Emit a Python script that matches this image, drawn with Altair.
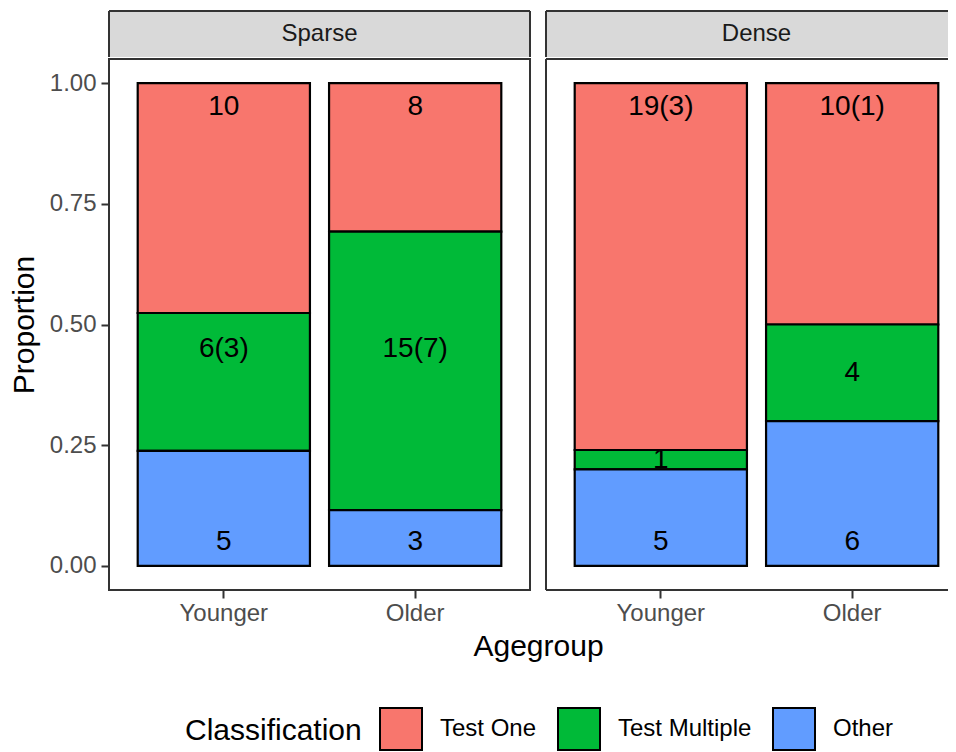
import altair as alt
import pandas as pd

FONT = "Liberation Sans"

facets = ["Sparse", "Dense"]
agegroups = ["Younger", "Older"]
classes = ["Test One", "Test Multiple", "Other"]
class_colors = ["#F8766D", "#00BA38", "#619CFF"]
stack_rank = [2, 1, 0]  # Other at the bottom

# counts in class order (Test One, Test Multiple, Other)
counts = {
    ("Sparse", "Younger"): [10, 6, 5],
    ("Sparse", "Older"): [8, 15, 3],
    ("Dense", "Younger"): [19, 1, 5],
    ("Dense", "Older"): [10, 4, 6],
}
labels = {
    ("Sparse", "Younger"): ["10", "6(3)", "5"],
    ("Sparse", "Older"): ["8", "15(7)", "3"],
    ("Dense", "Younger"): ["19(3)", "1", "5"],
    ("Dense", "Older"): ["10(1)", "4", "6"],
}
label_y = {
    ("Sparse", "Younger"): [0.95, 0.45, 0.05],
    ("Sparse", "Older"): [0.95, 0.45, 0.05],
    ("Dense", "Younger"): [0.95, 0.22, 0.05],
    ("Dense", "Older"): [0.95, 0.40, 0.05],
}

rows = []
for f in facets:
    for a in agegroups:
        for i, c in enumerate(classes):
            rows.append({
                "Facet": f, "Agegroup": a, "Classification": c,
                "count": counts[(f, a)][i], "label": labels[(f, a)][i],
                "label_y": label_y[(f, a)][i], "rank": stack_rank[i],
            })
df = pd.DataFrame(rows)

PANEL_H = 531
STRIP_H = 46
FULL_W = 421
RIGHT_W = 408
GAP = 16
BORDER = "#333333"
P_IN, P_OUT = 0.1, 0.15

# right panel is cut off by the picture edge: keep the same band step
STEP = FULL_W / (2 - P_IN + 2 * P_OUT)
P_OUT_R = (RIGHT_W / STEP - (2 - P_IN)) / 2
ALIGN_R = (P_OUT * STEP) / (RIGHT_W - (2 - P_IN) * STEP)

color_scale = alt.Scale(domain=classes, range=class_colors)
y_scale = alt.Scale(domain=[-0.05, 1.05], nice=False, zero=False)
one = pd.DataFrame({"k": [0]})


def border_rules(width, height, sides):
    out = []
    for s in sides:
        if s == "left":
            enc = dict(x=alt.value(0), y=alt.value(0), y2=alt.value(height))
        elif s == "right":
            enc = dict(x=alt.value(width), y=alt.value(0), y2=alt.value(height))
        elif s == "bottom":
            enc = dict(x=alt.value(0), x2=alt.value(width), y=alt.value(height))
        elif s == "top":
            enc = dict(x=alt.value(0), x2=alt.value(width), y=alt.value(0))
        out.append(alt.Chart(one).mark_rule(color=BORDER, strokeWidth=2).encode(**enc))
    return out


def panel(name, width, first):
    d = df[df["Facet"] == name]
    if first:
        xscale = alt.Scale(paddingInner=P_IN, paddingOuter=P_OUT)
    else:
        xscale = alt.Scale(paddingInner=P_IN, paddingOuter=P_OUT_R, align=ALIGN_R)
    xaxis_kwargs = dict(labelAngle=0, labelFontSize=24, labelColor="#4D4D4D",
                        labelFont=FONT, tickColor=BORDER, tickWidth=2,
                        tickSize=8, labelPadding=3, domain=False, grid=False)
    if first:
        xaxis = alt.Axis(title="Agegroup", titleFontSize=30, titleFont=FONT,
                         titleFontWeight="normal", titleColor="black",
                         titleX=(FULL_W * 2 + GAP) / 2, titlePadding=6, **xaxis_kwargs)
        yaxis = alt.Axis(title="Proportion", values=[0, 0.25, 0.5, 0.75, 1.0],
                         format=".2f", labelFontSize=24, labelColor="#4D4D4D",
                         labelFont=FONT, tickColor=BORDER, tickWidth=2,
                         tickSize=8, labelPadding=5, domain=False, grid=False,
                         titleFontSize=30, titleFont=FONT, titleFontWeight="normal",
                         titleColor="black", titlePadding=10)
    else:
        xaxis = alt.Axis(title=None, **xaxis_kwargs)
        yaxis = None
    base = alt.Chart(d)
    bars = base.mark_bar(stroke="black", strokeWidth=2.2).encode(
        x=alt.X("Agegroup:N", sort=agegroups, scale=xscale, axis=xaxis),
        y=alt.Y("count:Q", stack="normalize", scale=y_scale, axis=yaxis),
        color=alt.Color("Classification:N", scale=color_scale, legend=alt.Legend(
            orient="none", legendX=76, legendY=696, direction="horizontal",
            titleOrient="left", title="Classification", titleFontSize=30,
            titleFont=FONT, titleFontWeight="normal", titleColor="black",
            titlePadding=17, titleBaseline="middle", labelFontSize=24,
            labelFont=FONT, labelColor="black", labelOffset=17, columnPadding=17,
            symbolType="square", symbolSize=1764, symbolStrokeColor="black",
            symbolStrokeWidth=2, symbolOpacity=1, padding=0)),
        order=alt.Order("rank:Q"),
    )
    text = base.mark_text(fontSize=28, font=FONT, color="black").encode(
        x=alt.X("Agegroup:N", sort=agegroups, scale=xscale, axis=xaxis),
        y=alt.Y("label_y:Q", scale=y_scale, axis=yaxis),
        text="label:N",
    )
    if first:
        return alt.layer(bars, text).properties(
            width=width, height=PANEL_H,
            view=alt.ViewBackground(fill="white", stroke=BORDER, strokeWidth=2),
        )
    return alt.layer(bars, text, *border_rules(width, PANEL_H, ["left", "top", "bottom"])).properties(
        width=width, height=PANEL_H,
        view=alt.ViewBackground(fill="white", strokeWidth=0),
    )


def strip(name, width, first):
    t = alt.Chart(pd.DataFrame({"Facet": [name]})).mark_text(
        fontSize=24, font=FONT, color="#1A1A1A", baseline="middle", align="center"
    ).encode(
        text="Facet:N", x=alt.value(FULL_W / 2), y=alt.value(STRIP_H / 2)
    )
    sides = ["left", "top", "right"] if first else ["left", "top"]
    return alt.layer(t, *border_rules(width, STRIP_H, sides)).properties(
        width=width, height=STRIP_H,
        view=alt.ViewBackground(fill="#D9D9D9", strokeWidth=0),
    )


strips = alt.hconcat(strip("Sparse", FULL_W, True), strip("Dense", RIGHT_W, False),
                     spacing=GAP, bounds="flush")
panels = alt.hconcat(panel("Sparse", FULL_W, True), panel("Dense", RIGHT_W, False),
                     spacing=GAP, bounds="flush")

chart = alt.vconcat(strips, panels, spacing=0).resolve_scale(color="shared").properties(
    padding={"left": 0, "top": 2, "right": -7, "bottom": 0}
).configure_view(strokeWidth=0).configure(font=FONT)

chart.save("out.html", embed_options={"renderer": "svg", "actions": False})
